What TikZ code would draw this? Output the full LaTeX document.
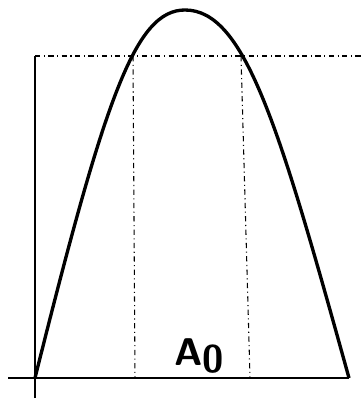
\documentclass[tikz,border=0pt]{standalone}
\usepackage{tikz}
\usetikzlibrary{calc}

\begin{document}
\begin{tikzpicture}[x=0.02cm,y=-0.02cm,
  axis/.style={line width=1.2pt},
  curve/.style={line width=1.9pt,line join=round},
  guide/.style={line width=0.6pt,dash dot},
  lbl/.style={font=\sffamily\bfseries\fontsize{22}{22}\selectfont,inner sep=0pt}]
\useasboundingbox (0,0) rectangle (363,401);
% axes
\coordinate (O) at (35,378);
\coordinate (xl) at (8,378);
\coordinate (xr) at (349,378);
\coordinate (yb) at (35,398);
\coordinate (yt) at (35,56);
\draw[axis] (xl) -- (xr);
\draw[axis] (yb) -- (yt);
% guide lines
\coordinate (hr) at (363,56);
\coordinate (g1t) at (133,56);
\coordinate (g1b) at (135,378);
\coordinate (g2t) at (241,56);
\coordinate (g2b) at (250,378);
\draw[guide] (yt) -- (hr);
\draw[guide] (g1t) -- (g1b);
\draw[guide] (g2t) -- (g2b);
% curve
\coordinate (peak) at (185,10);
\draw[curve] (O) .. controls (105,98) and (135,10) .. (peak)
  .. controls (245,10) and (279,126) .. (xr);
% label
\node[lbl] (area) at (199,356) {A\raisebox{-0.45ex}{0}};
\end{tikzpicture}
\end{document}
